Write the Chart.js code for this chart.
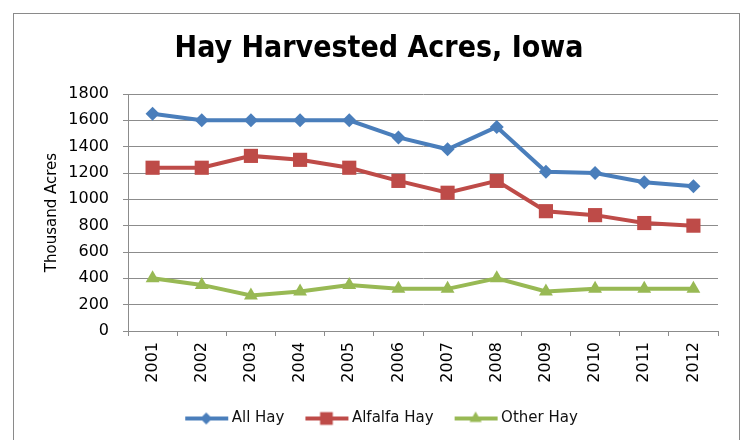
<!DOCTYPE html>
<html>
<head>
<meta charset="utf-8">
<script src="https://cdn.jsdelivr.net/npm/chart.js@4.4.1/dist/chart.umd.min.js"></script>
<style>
  html, body { margin: 0; padding: 0; background: #fff; }
  #wrap { width: 746px; height: 440px; }
</style>
</head>
<body>
<div id="wrap"><canvas id="hayChart" width="746" height="440"></canvas></div>
<script>
const years = ["2001", "2002", "2003", "2004", "2005", "2006", "2007", "2008", "2009", "2010", "2011", "2012"];
const allHay = [1650, 1600, 1600, 1600, 1600, 1470, 1380, 1550, 1210, 1200, 1130, 1100];
const alfalfaHay = [1240, 1240, 1330, 1300, 1240, 1140, 1050, 1140, 910, 880, 820, 800];
const otherHay = [400, 350, 270, 300, 350, 320, 320, 400, 300, 320, 320, 320];
const yMin = 0, yMax = 1800, yStep = 200;

const BLUE = "#4a7ebb", RED = "#be4b48", GREEN = "#98b954";
const GRID = "#8c8c8c";
const LABEL_FONT = "'DejaVu Sans', sans-serif";
const PAD_BOTTOM = 4;

// legend swatch: short line with the marker in the middle (Excel style)
function legendSwatch(color, style, radius) {
  const c = document.createElement("canvas");
  c.width = 56; c.height = 20;
  const ctx = c.getContext("2d");
  ctx.strokeStyle = color;
  ctx.lineWidth = 4;
  ctx.beginPath();
  ctx.moveTo(11, 10);
  ctx.lineTo(54, 10);
  ctx.stroke();
  ctx.fillStyle = color;
  Chart.helpers.drawPoint(ctx, { pointStyle: style, radius: radius, rotation: 0, borderWidth: 0 }, 32, 10);
  return c;
}

const swatches = [
  legendSwatch(BLUE, "rectRot", 6),
  legendSwatch(RED, "rect", 9),
  legendSwatch(GREEN, "triangle", 7),
];

const frame = {
  id: "frame",
  beforeDraw(chart) {
    const ctx = chart.ctx;
    ctx.save();
    ctx.strokeStyle = "#8a8a8a";
    ctx.lineWidth = 1;
    ctx.strokeRect(13.5, 13.5, 726, 440);
    ctx.restore();
  }
};

function series(label, data, color, style, radius) {
  return {
    label, data,
    borderColor: color,
    backgroundColor: color,
    borderWidth: 4,
    pointStyle: style,
    pointRadius: radius,
    pointHoverRadius: radius,
    pointBorderWidth: 0,
    tension: 0,
  };
}

new Chart(document.getElementById("hayChart"), {
  type: "line",
  data: {
    labels: years,
    datasets: [
      series("All Hay", allHay, BLUE, "rectRot", 7),
      series("Alfalfa Hay", alfalfaHay, RED, "rect", 10),
      series("Other Hay", otherHay, GREEN, "triangle", 8),
    ]
  },
  plugins: [frame],
  options: {
    responsive: false,
    animation: false,
    layout: { padding: { left: 40, right: 28, top: 0, bottom: PAD_BOTTOM } },
    plugins: {
      title: {
        display: true,
        text: "Hay Harvested Acres, Iowa",
        color: "#000",
        font: { family: "'DejaVu Sans Condensed', sans-serif", size: 30, weight: "bold" },
        padding: { top: 31, bottom: 27 },
      },
      legend: {
        position: "bottom",
        labels: {
          usePointStyle: true,
          pointStyleWidth: 44,
          boxHeight: 14,
          padding: 16,
          color: "#111",
          font: { family: LABEL_FONT, size: 15 },
          generateLabels(chart) {
            const items = Chart.defaults.plugins.legend.labels.generateLabels(chart);
            items.forEach((it, i) => { it.pointStyle = swatches[i]; });
            return items;
          }
        }
      },
      tooltip: { enabled: false },
    },
    scales: {
      x: {
        offset: true,
        grid: { display: true, offset: true, drawOnChartArea: false, color: GRID, tickLength: 5 },
        border: { color: GRID, width: 1 },
        ticks: { color: "#000", font: { family: LABEL_FONT, size: 16 }, minRotation: 90, maxRotation: 90, padding: 6 },
        afterFit(scale) {
          const lh = scale.chart.legend ? scale.chart.legend.height : 60;
          scale.height = 440 - PAD_BOTTOM - 331 - lh;
        }
      },
      y: {
        min: yMin, max: yMax,
        ticks: { stepSize: yStep, color: "#000", font: { family: LABEL_FONT, size: 16 }, padding: 14,
                 callback: (v) => String(v) },
        grid: { color: GRID, tickLength: 5 },
        border: { color: GRID, width: 1 },
        title: {
          display: true,
          text: "Thousand Acres",
          color: "#000",
          font: { family: LABEL_FONT, size: 15 },
          padding: { top: 3, bottom: 0 },
        },
        afterFit(scale) {
          scale.width = 128 - 40;
        }
      }
    }
  }
});
</script>
</body>
</html>
